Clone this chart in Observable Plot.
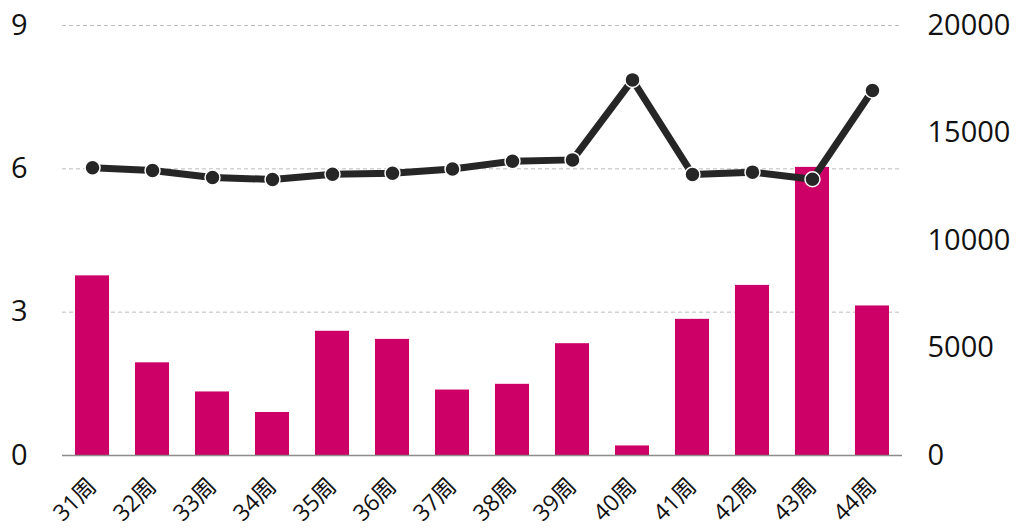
<!DOCTYPE html>
<html>
<head>
<meta charset="utf-8">
<script src="https://cdn.jsdelivr.net/npm/d3@7"></script>
<script src="https://cdn.jsdelivr.net/npm/@observablehq/plot@0.6"></script>
<style>
  html, body { margin: 0; padding: 0; background: #fff; }
  #chart { width: 1017px; height: 529px; }
</style>
</head>
<body>
<div id="chart"></div>
<script>
const weeks = ["31周","32周","33周","34周","35周","36周","37周","38周","39周","40周","41周","42周","43周","44周"];
const barValues = [3.76, 1.94, 1.33, 0.90, 2.60, 2.43, 1.37, 1.49, 2.34, 0.20, 2.85, 3.56, 6.03, 3.13];
const lineValues = [13380, 13260, 12930, 12840, 13080, 13130, 13330, 13690, 13750, 17470, 13070, 13180, 12850, 16980];
const leftTicks = [0, 3, 6, 9];
const rightTicks = [0, 5000, 10000, 15000, 20000];
const leftMax = 9;
const rightMax = 20000;
const k = leftMax / rightMax;

const data = weeks.map((w, i) => ({week: w, bar: barValues[i], line: lineValues[i] * k}));
const font = "'Open Sans', 'Noto Sans CJK SC', sans-serif";

const chart = Plot.plot({
  width: 1017,
  height: 529,
  marginTop: 25,
  marginBottom: 74,
  marginLeft: 62,
  marginRight: 115,
  style: {fontFamily: font, background: "#fff", color: "#111"},
  x: {type: "band", domain: weeks, paddingInner: 0.433, paddingOuter: 0.217, round: false, label: null},
  y: {domain: [0, leftMax], label: null},
  marks: [
    Plot.gridY(leftTicks.filter(d => d > 0), {stroke: "#bdbdbd", strokeOpacity: 1, strokeDasharray: "4,3", strokeWidth: 1}),
    Plot.barY(data, {x: "week", y: "bar", fill: "#CC0066"}),
    Plot.ruleY([0], {stroke: "#8c8c8c", strokeWidth: 1.5}),
    Plot.line(data, {x: "week", y: "line", stroke: "#262626", strokeWidth: 7}),
    Plot.dot(data, {x: "week", y: "line", r: 7.5, fill: "#262626", stroke: "#fff", strokeWidth: 1.5}),
    Plot.axisY({anchor: "left", ticks: leftTicks, tickSize: 0, tickPadding: 35, fontSize: 29, label: null}),
    Plot.axisY({anchor: "right", ticks: rightTicks.map(t => t * k), tickFormat: d => String(Math.round(d / k)), tickSize: 0, tickPadding: 25, fontSize: 29, label: null}),
    Plot.axisX({tickRotate: -45, tickSize: 0, tickPadding: 27, fontSize: 23, label: null})
  ]
});
document.getElementById("chart").appendChild(chart);
</script>
</body>
</html>
